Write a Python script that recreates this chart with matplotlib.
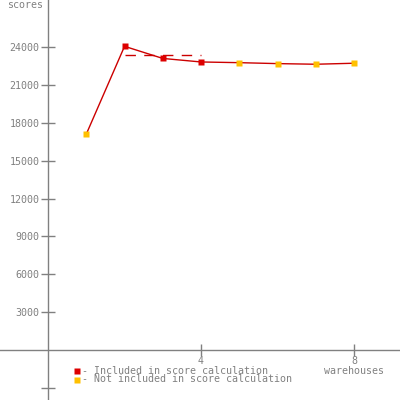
import matplotlib
matplotlib.use("Agg")
import matplotlib.pyplot as plt

warehouses = [1, 2, 3, 4, 5, 6, 7, 8]
scores = [17100, 24060, 23100, 22820, 22765, 22690, 22640, 22720]
included = [False, True, True, True, False, False, False, False]
score_range = [2, 4]
score_value = 23350
y_ticks = [3000, 6000, 9000, 12000, 15000, 18000, 21000, 24000]
x_ticks = [4, 8]

RED = "#dd0000"
ORANGE = "#ffc000"
GRAY = "#808080"
FONT = "DejaVu Sans Mono"
FS = 7.2

fig = plt.figure(figsize=(4, 4), dpi=100)
ax = fig.add_axes([0, 0, 1, 1])
ax.set_xlim(-1.255, 9.2)
ax.set_ylim(-3962, 27730)

for s in ["top", "right"]:
    ax.spines[s].set_visible(False)
for s in ["left", "bottom"]:
    ax.spines[s].set_position(("data", 0))
    ax.spines[s].set_color(GRAY)
    ax.spines[s].set_linewidth(1)

ax.plot(warehouses, scores, color="#cc0000", lw=1, zorder=2)
ax.plot(score_range, [score_value, score_value], color="#cc0000", lw=1,
        dashes=(7.5, 6), zorder=2)
for x, y, inc in zip(warehouses, scores, included):
    ax.plot([x], [y], marker="s", ms=4, color=RED if inc else ORANGE,
            mec="none", zorder=3)

ax.set_yticks(y_ticks + [-3000])
ax.set_yticklabels([str(v) for v in y_ticks] + [""])
ax.set_xticks(x_ticks)
ax.set_xticklabels([str(v) for v in x_ticks])
ax.tick_params(axis="y", direction="inout", length=10, width=1,
               color=GRAY, labelcolor=GRAY, labelsize=FS, pad=1)
ax.tick_params(axis="x", direction="inout", length=8, width=1,
               color=GRAY, labelcolor=GRAY, labelsize=FS, pad=0)
for lab in ax.get_xticklabels() + ax.get_yticklabels():
    lab.set_fontfamily(FONT)

ax.text(-0.13, 27730, "scores", ha="right", va="top", color=GRAY,
        fontsize=FS, family=FONT)
ax.text(8, -1280, "warehouses", ha="center", va="top", color=GRAY,
        fontsize=FS, family=FONT)

# legend
leg_items = [("- Included in score calculation", RED),
             ("- Not included in score calculation", ORANGE)]
for i, (txt, col) in enumerate(leg_items):
    yy = 1 - (371 + 8.5 * i) / 400
    fig.lines.append(plt.Line2D([77 / 400], [yy], marker="s", ms=4, color=col,
                                mec="none", transform=fig.transFigure))
    fig.text(82 / 400, yy, txt, ha="left", va="center", color=GRAY,
             fontsize=FS, family=FONT)

fig.savefig("out.png", dpi=100, facecolor="white")
